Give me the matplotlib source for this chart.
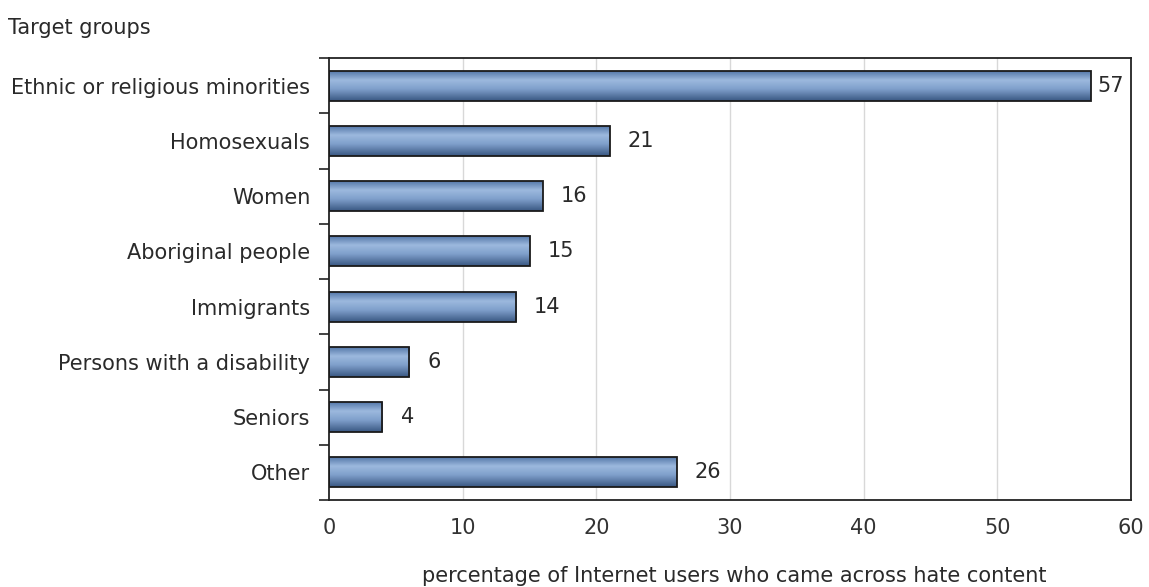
import numpy as np
import matplotlib
matplotlib.use("Agg")
import matplotlib.pyplot as plt
from matplotlib.colors import LinearSegmentedColormap
from matplotlib.patches import Rectangle

categories = ["Ethnic or religious minorities", "Homosexuals", "Women",
              "Aboriginal people", "Immigrants", "Persons with a disability",
              "Seniors", "Other"]
values = [57, 21, 16, 15, 14, 6, 4, 26]
xticks = [0, 10, 20, 30, 40, 50, 60]

plt.rcParams['font.family'] = ['DejaVu Sans']
FS = 15
TXT = "#2a2a2a"

fig = plt.figure(figsize=(11.49, 5.87), dpi=100)
ax = fig.add_axes([329 / 1149, 1 - 500 / 587, (1131 - 329) / 1149, (500 - 58) / 587])

n = len(categories)

# vertical shading inside each bar: darker edges, light band above centre
shade = LinearSegmentedColormap.from_list(
    "bar", [(0.0, "#5679aa"), (0.3, "#9cb9de"), (0.6, "#7f9fcb"), (1.0, "#3a5883")])
grad = np.linspace(0, 1, 64).reshape(-1, 1)

bh = 0.54
for i, v in enumerate(values):
    yc = i + 0.5
    ax.imshow(grad, cmap=shade, aspect="auto", interpolation="bilinear",
              extent=(0, v, yc + bh / 2, yc - bh / 2), zorder=2)
    ax.add_patch(Rectangle((0, yc - bh / 2), v, bh, fill=False,
                           edgecolor="#1a1a1a", linewidth=1.3, zorder=3))
    ax.text(v + 1.35 if v < 50 else v + 0.45, yc, str(v), va="center", ha="left",
            fontsize=FS, color=TXT, zorder=4)

ax.set_xlim(0, 60)
ax.set_ylim(n, 0)

for x in xticks[1:-1]:
    ax.axvline(x, color="#d8d8d8", linewidth=1, zorder=1)

ax.set_xticks(xticks)
ax.set_xticklabels([str(t) for t in xticks], fontsize=FS, color="#333333")
ax.tick_params(axis="x", length=0, pad=13)

ax.set_yticks(np.arange(n + 1), minor=False)
ax.set_yticklabels([])
ax.tick_params(axis="y", which="major", length=7, width=1.2, color="#222222")
ax.set_yticks(np.arange(n) + 0.5, minor=True)
ax.set_yticklabels(categories, minor=True, fontsize=FS, color=TXT)
ax.tick_params(axis="y", which="minor", length=0, pad=13.5)

for s in ax.spines.values():
    s.set_color("#222222")
    s.set_linewidth(1.3)

fig.text(8 / 1149, 1 - 28 / 587, "Target groups", fontsize=FS, color=TXT,
         va="center", ha="left")
fig.text(734 / 1149, 1 - 576 / 587,
         "percentage of Internet users who came across hate content",
         fontsize=FS, color=TXT, va="center", ha="center")

fig.savefig("out.png", dpi=100, facecolor="white")
